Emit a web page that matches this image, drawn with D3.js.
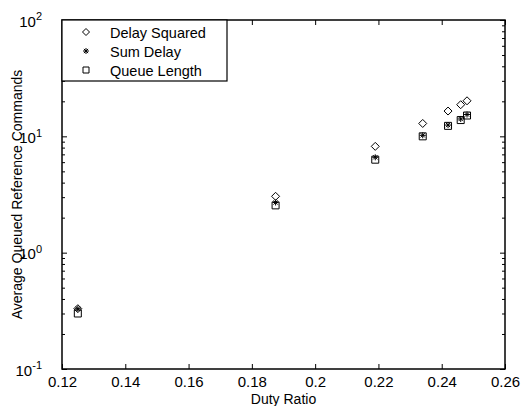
<!DOCTYPE html>
<meta charset="utf-8">
<style>
    body { margin: 0; background: #fff; }
    text { font-family: Arial, "Liberation Sans", sans-serif; fill: #000; }
    .axis path.domain { display: none; }
    .axis line { stroke: #000; stroke-width: 1; }
</style>
<svg width="523" height="406"></svg>
<script src="https://d3js.org/d3.v7.min.js"></script>
<script>

    // values
    var dutyRatio     = [0.125, 0.1875, 0.219, 0.234, 0.242, 0.246, 0.248];
    var delaySquared  = [0.33, 3.05, 8.2, 12.9, 16.5, 18.7, 20.2];
    var sumDelay      = [0.33, 2.7, 6.6, 10.2, 12.5, 14.1, 15.4];
    var queueLength   = [0.30, 2.55, 6.3, 10.0, 12.3, 13.8, 15.1];
    var xTicks = [0.12, 0.14, 0.16, 0.18, 0.2, 0.22, 0.24, 0.26];
    var yTicks = [0.1, 1, 10, 100];
    var seriesNames = ["Delay Squared", "Sum Delay", "Queue Length"];

    var svg = d3.select("svg"),
        margin = {top: 20, right: 18, bottom: 37, left: 62},
        width = +svg.attr("width"),
        height = +svg.attr("height");

    var x = d3.scaleLinear().domain([0.12, 0.26]).range([margin.left, width - margin.right]);
    var y = d3.scaleLog().domain([0.1, 100]).range([height - margin.bottom, margin.top]);

    // marker shapes (matlab-ish)
    function diamond(r) { return "M0," + (-r) + "L" + r + ",0L0," + r + "L" + (-r) + ",0Z"; }
    function square(r) { return "M" + (-r) + "," + (-r) + "h" + (2 * r) + "v" + (2 * r) + "h" + (-2 * r) + "Z"; }
    function star(r) {
        var d = "M" + (-r) + ",0h" + (2 * r) + "M0," + (-r) + "v" + (2 * r);
        var k = r * 0.7;
        d += "M" + (-k) + "," + (-k) + "L" + k + "," + k + "M" + (-k) + "," + k + "L" + k + "," + (-k);
        return d;
    }

    // x axis, ticks pointing inward, also on top
    svg.append("g")
        .attr("class", "axis")
        .attr("transform", "translate(0," + y.range()[0] + ")")
        .call(d3.axisBottom(x).tickValues(xTicks).tickSizeInner(-5).tickSizeOuter(0).tickPadding(7)
            .tickFormat(function(d) { return String(+d.toFixed(2)); }))
        .selectAll("text").style("font-size", "15px");

    svg.append("g")
        .attr("class", "axis")
        .attr("transform", "translate(0," + y.range()[1] + ")")
        .call(d3.axisTop(x).tickValues(xTicks).tickSizeInner(-5).tickSizeOuter(0).tickFormat(""));

    // y axis: major + minor log ticks, both sides
    var minor = y.ticks().filter(function(d) { return yTicks.indexOf(d) < 0; });

    var yLeft = svg.append("g")
        .attr("class", "axis")
        .attr("transform", "translate(" + x.range()[0] + ",0)")
        .call(d3.axisLeft(y).tickValues(yTicks).tickSizeInner(-5).tickSizeOuter(0).tickPadding(20).tickFormat(""));

    yLeft.selectAll(".tick text")
        .style("font-size", "15px")
        .attr("dy", "0.4em")
        .each(function(d) {
            var t = d3.select(this);
            t.append("tspan").text("10");
            t.append("tspan").attr("dy", "-0.55em").style("font-size", "11px").text(Math.round(Math.log10(d)));
        });

    svg.append("g")
        .attr("class", "axis")
        .attr("transform", "translate(" + x.range()[0] + ",0)")
        .call(d3.axisLeft(y).tickValues(minor).tickSizeInner(-3).tickSizeOuter(0).tickFormat(""));

    svg.append("g")
        .attr("class", "axis")
        .attr("transform", "translate(" + x.range()[1] + ",0)")
        .call(d3.axisRight(y).tickValues(yTicks).tickSizeInner(-5).tickSizeOuter(0).tickFormat(""));

    svg.append("g")
        .attr("class", "axis")
        .attr("transform", "translate(" + x.range()[1] + ",0)")
        .call(d3.axisRight(y).tickValues(minor).tickSizeInner(-3).tickSizeOuter(0).tickFormat(""));

    // frame
    svg.append("rect")
        .attr("x", x.range()[0])
        .attr("y", y.range()[1])
        .attr("width", x.range()[1] - x.range()[0])
        .attr("height", y.range()[0] - y.range()[1])
        .attr("fill", "none")
        .attr("stroke", "#000")
        .attr("stroke-width", 1.5);

    // axis labels
    svg.append("text")
        .attr("x", (x.range()[0] + x.range()[1]) / 2)
        .attr("y", 404)
        .attr("text-anchor", "middle")
        .style("font-size", "14px")
        .text("Duty Ratio");

    svg.append("text")
        .attr("transform", "translate(22," + (y.range()[0] + y.range()[1]) / 2 + ") rotate(-90)")
        .attr("text-anchor", "middle")
        .style("font-size", "14px")
        .text("Average Queued Reference Commands");

    // data points
    var series = [
        {values: delaySquared, shape: function() { return diamond(4); }},
        {values: queueLength, shape: function() { return square(3.5); }},
        {values: sumDelay, shape: function() { return star(3); }}
    ];

    series.forEach(function(s) {
        svg.append("g").selectAll("path")
            .data(dutyRatio.map(function(d, i) { return {x: d, y: s.values[i]}; }))
            .enter().append("path")
            .attr("transform", function(d) { return "translate(" + x(d.x) + "," + y(d.y) + ")"; })
            .attr("d", s.shape)
            .attr("fill", "none")
            .attr("stroke", "#000")
            .attr("stroke-width", 1);
    });

    // legend
    var legend = svg.append("g");
    legend.append("rect")
        .attr("x", x.range()[0])
        .attr("y", y.range()[1])
        .attr("width", 165)
        .attr("height", 61)
        .attr("fill", "#fff")
        .attr("stroke", "#000")
        .attr("stroke-width", 1.2);

    var legendShapes = [diamond(3.5), star(3), square(3)];
    seriesNames.forEach(function(name, i) {
        var cy = 32 + i * 19;
        legend.append("path")
            .attr("transform", "translate(86," + cy + ")")
            .attr("d", legendShapes[i])
            .attr("fill", "none")
            .attr("stroke", "#000")
            .attr("stroke-width", 1);
        legend.append("text")
            .attr("x", 110)
            .attr("y", cy + 5.5)
            .style("font-size", "14.5px")
            .text(name);
    });

</script>
